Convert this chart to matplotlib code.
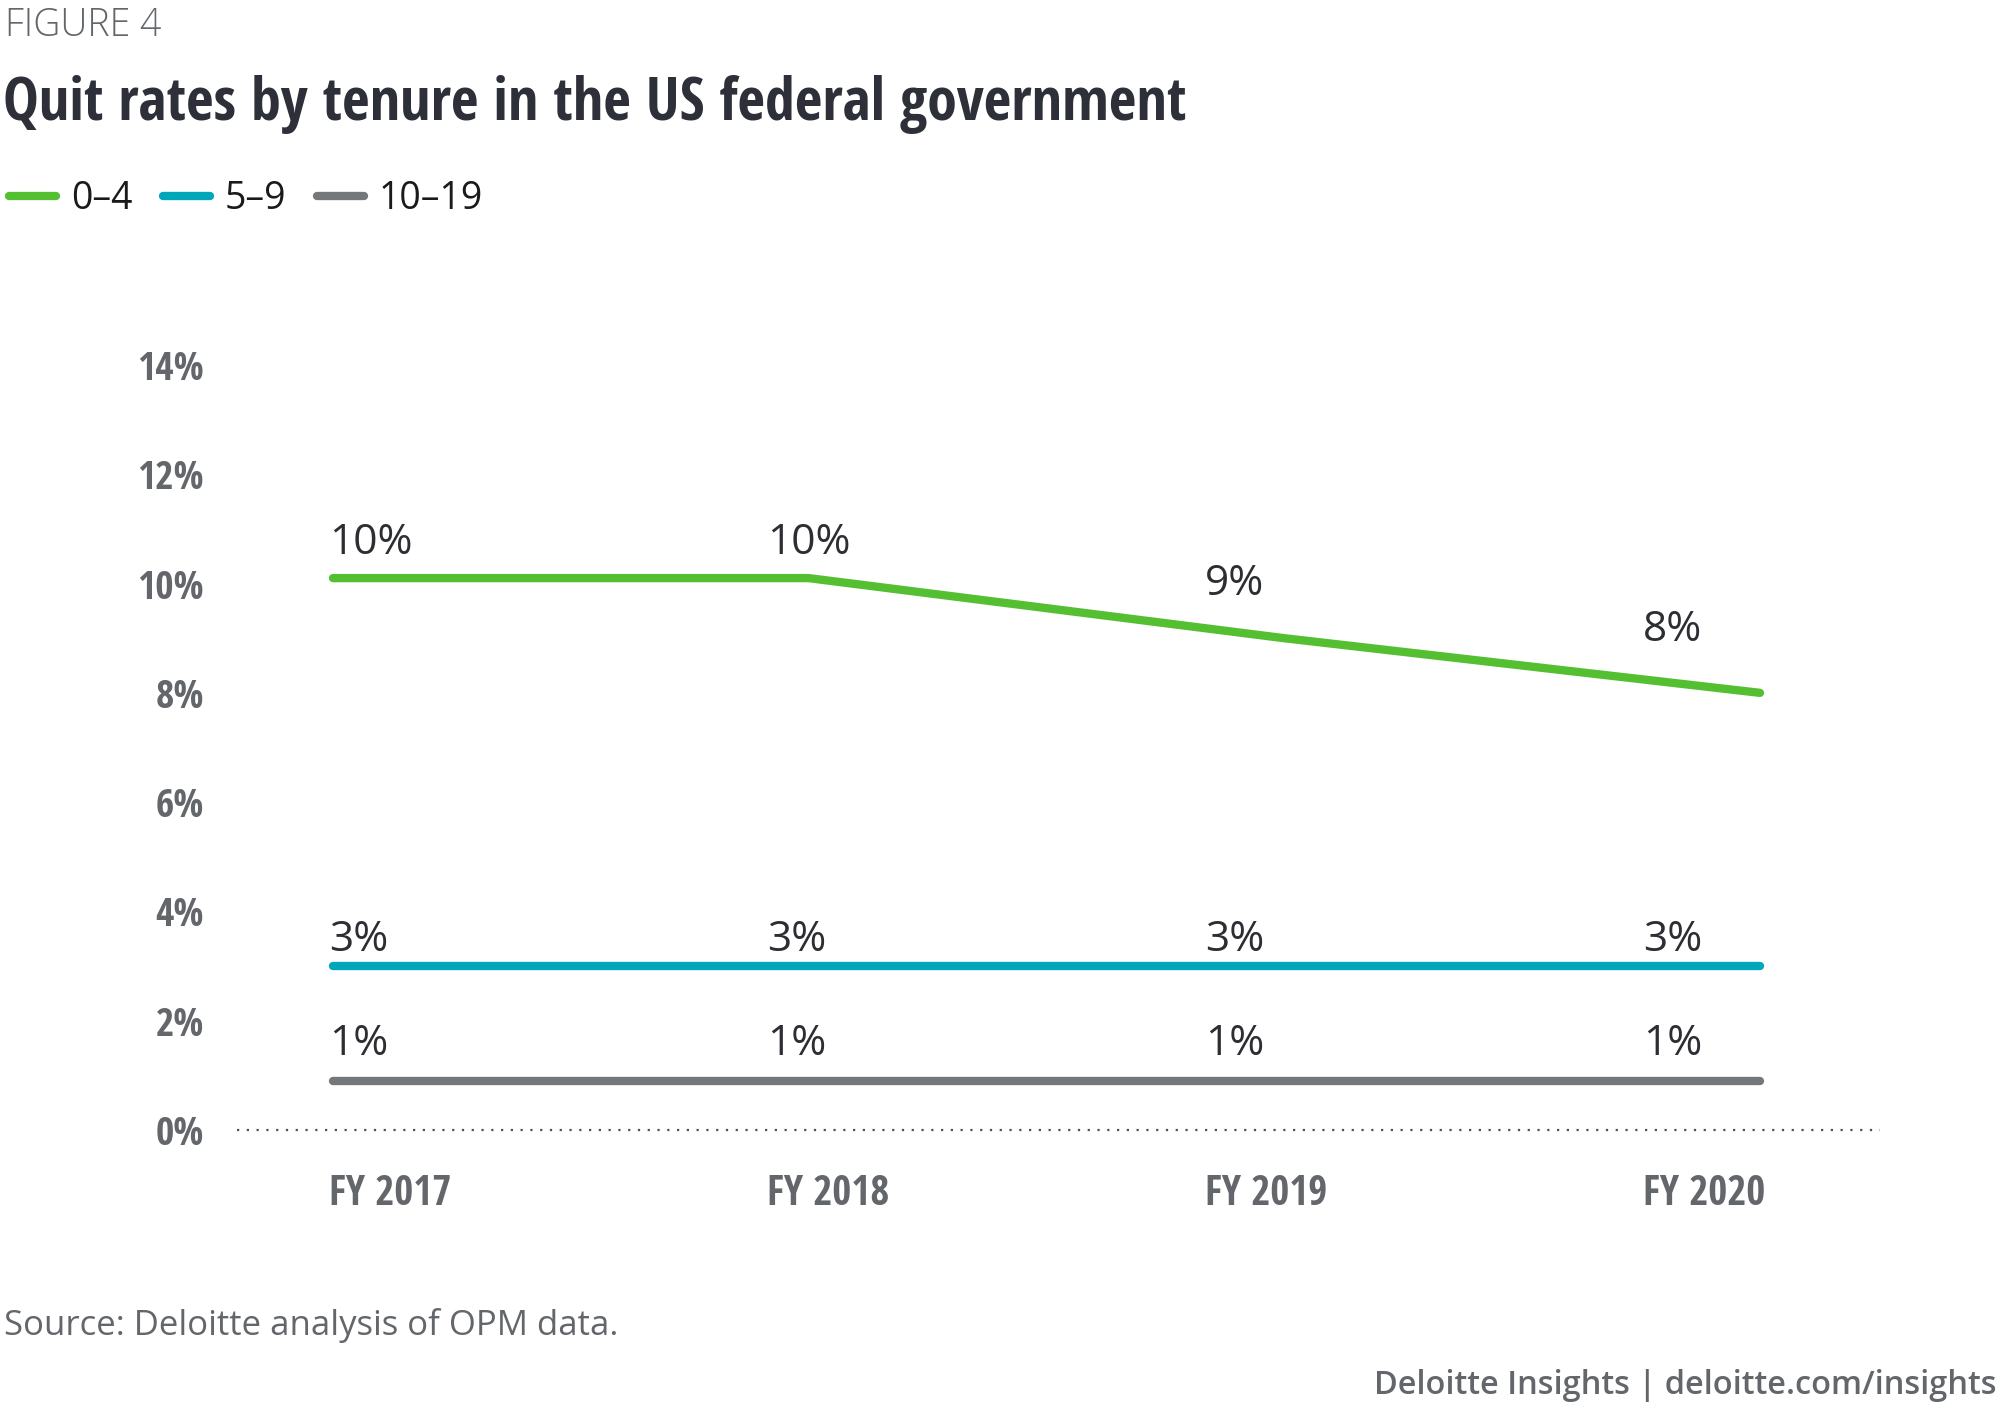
import matplotlib
matplotlib.use("Agg")
import matplotlib.pyplot as plt
import numpy as np

# ---------------- data ----------------
years = ["FY 2017", "FY 2018", "FY 2019", "FY 2020"]
series_names = ["0\u20134", "5\u20139", "10\u201319"]
tenure_0_4 = [10.1, 10.1, 9.0, 8.0]
tenure_5_9 = [3.0, 3.0, 3.0, 3.0]
tenure_10_19 = [0.9, 0.9, 0.9, 0.9]
value_labels_0_4 = ["10%", "10%", "9%", "8%"]
value_labels_5_9 = ["3%", "3%", "3%", "3%"]
value_labels_10_19 = ["1%", "1%", "1%", "1%"]
y_ticks = [0, 2, 4, 6, 8, 10, 12, 14]
y_tick_labels = ["0%", "2%", "4%", "6%", "8%", "10%", "12%", "14%"]

# ---------------- style ----------------
COLORS = ["#55BF32", "#00A6B9", "#75787B"]
TITLE_C = "#2E3039"
GRAY_TXT = "#63666A"
LABEL_C = "#2C2E33"
COND = ["Open Sans Condensed", "Roboto Condensed", "DejaVu Sans"]
REG = ["Open Sans", "DejaVu Sans"]
W, H = 2000, 1417

fig = plt.figure(figsize=(W / 100, H / 100), dpi=100)
fig.patch.set_facecolor("white")

def fx(px):
    return px / W

def fy(py):
    return 1 - py / H

ax = fig.add_axes([fx(237), fy(1130), fx(1880) - fx(237), fy(365) - fy(1130)])
ax.set_xlim(-0.2018, 3.2523)
ax.set_ylim(0, 14)
for s in ax.spines.values():
    s.set_visible(False)

x = np.arange(len(years))
all_series = [tenure_0_4, tenure_5_9, tenure_10_19]
all_labels = [value_labels_0_4, value_labels_5_9, value_labels_10_19]
LW = 6.0

handles = []
for vals, col, name in zip(all_series, COLORS, series_names):
    ln, = ax.plot(x, vals, color=col, lw=LW, solid_capstyle="round",
                  solid_joinstyle="round", zorder=3, clip_on=False, label=name)
    handles.append(ln)

# zero baseline (dotted)
ax.axhline(0, color="#4E5156", lw=1.6, linestyle=(0, (1, 3.4)), zorder=2, clip_on=False)

# label x positions (left edges) -- labels spaced slightly narrower than the points
LABEL_STEP = 0.9207
LABEL_X0 = -0.0084
label_x = [LABEL_X0 + LABEL_STEP * i for i in range(len(years))]

# baseline offsets (pixels above the point) per label
offsets = [[24, 24, 43, 52], [15, 15, 15, 15], [26, 26, 26, 26]]
for vals, labs, offs in zip(all_series, all_labels, offsets):
    for i, (v, lab, off) in enumerate(zip(vals, labs, offs)):
        ax.annotate(lab, xy=(label_x[i], v), xytext=(0, off), textcoords="offset pixels",
                    ha="left", va="baseline", fontsize=30.5, color=LABEL_C,
                    family=REG, zorder=4, annotation_clip=False)

# y axis
ax.set_yticks(y_ticks)
ax.set_yticklabels(y_tick_labels, family=COND, fontweight="bold", fontsize=28.5, color=GRAY_TXT)
ax.tick_params(axis="y", length=0, pad=23.8)

# x axis
ax.set_xticks(label_x)
ax.set_xticklabels(years, family=COND, fontweight="bold", fontsize=29.5, color=GRAY_TXT, ha="left")
ax.tick_params(axis="x", length=0, pad=32)

# legend
leg = fig.legend(handles, series_names, loc="center left", bbox_to_anchor=(fx(9), fy(199)),
                 ncol=3, frameon=False, handlelength=1.26, handletextpad=0.4,
                 columnspacing=0.8, borderpad=0, borderaxespad=0,
                 prop={"family": REG, "size": 27})
for t in leg.get_texts():
    t.set_color("#1A1A1A")

# header texts
fig.text(fx(5), fy(36.5), "FIGURE 4", family=REG, fontweight="light", fontsize=27,
         color=GRAY_TXT, ha="left", va="baseline")
fig.text(fx(3), fy(120), "Quit rates by tenure in the US federal government", family=COND,
         fontweight="bold", fontsize=43.3, color=TITLE_C, ha="left", va="baseline")

# footer texts
fig.text(fx(4), fy(1335), "Source: Deloitte analysis of OPM data.", family=REG, fontsize=25,
         color=GRAY_TXT, ha="left", va="baseline")
fig.text(fx(1997), fy(1394), "Deloitte Insights | deloitte.com/insights", family=REG,
         fontweight="semibold", fontsize=23.4, color=GRAY_TXT, ha="right", va="baseline")

fig.savefig("out.png", dpi=100, facecolor="white")
